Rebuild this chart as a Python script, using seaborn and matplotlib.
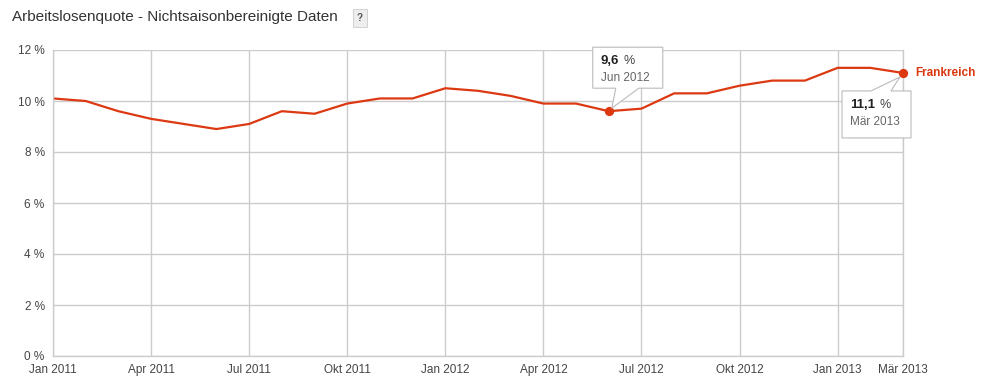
import numpy as np
import pandas as pd
import matplotlib
matplotlib.use("Agg")
import matplotlib.pyplot as plt
import matplotlib.transforms as mtransforms
from matplotlib.patches import Polygon
import seaborn as sns

# Data: monthly unemployment rate, France, Jan 2011 - Mar 2013
months = ["Jan 2011", "Feb 2011", "Mär 2011", "Apr 2011", "Mai 2011", "Jun 2011",
          "Jul 2011", "Aug 2011", "Sep 2011", "Okt 2011", "Nov 2011", "Dez 2011",
          "Jan 2012", "Feb 2012", "Mär 2012", "Apr 2012", "Mai 2012", "Jun 2012",
          "Jul 2012", "Aug 2012", "Sep 2012", "Okt 2012", "Nov 2012", "Dez 2012",
          "Jan 2013", "Feb 2013", "Mär 2013"]
rate = [10.1, 10.0, 9.6, 9.3, 9.1, 8.9,
        9.1, 9.6, 9.5, 9.9, 10.1, 10.1,
        10.5, 10.4, 10.2, 9.9, 9.9, 9.6,
        9.7, 10.3, 10.3, 10.6, 10.8, 10.8,
        11.3, 11.3, 11.1]
tick_labels = ["Jan 2011", "Apr 2011", "Jul 2011", "Okt 2011", "Jan 2012",
               "Apr 2012", "Jul 2012", "Okt 2012", "Jan 2013", "Mär 2013"]
y_ticks = [0, 2, 4, 6, 8, 10, 12]
country = "Frankreich"
highlight = ["Jun 2012", "Mär 2013"]

df = pd.DataFrame({"month": months, "rate": rate})
df["idx"] = np.arange(len(df))

sns.set_style("white")
plt.rcParams["font.family"] = ["Liberation Sans", "DejaVu Sans"]

red = "#dc3912"
grid_c = "#cccccc"
txt_c = "#444444"

fig = plt.figure(figsize=(9.81, 3.82), dpi=100)
ax = fig.add_axes([53 / 981, 26 / 382, 850 / 981, 306 / 382])

sns.lineplot(data=df, x="idx", y="rate", color=red, linewidth=1.6, ax=ax)

ax.set_xlim(0, len(months) - 1)
ax.set_ylim(0, 12)
tick_pos = [months.index(t) for t in tick_labels]
ax.set_xticks(tick_pos)
ax.set_xticklabels(tick_labels, fontsize=8.5, color=txt_c)
ax.set_yticks(y_ticks)
ax.set_yticklabels([f"{v} %" for v in y_ticks], fontsize=8.5, color=txt_c)
ax.tick_params(length=0, pad=6)
ax.grid(True, color=grid_c, linewidth=1)
ax.spines["top"].set_visible(False)
for s in ["left", "bottom", "right"]:
    ax.spines[s].set_color(grid_c)
    ax.spines[s].set_linewidth(1)
ax.set_xlabel("")
ax.set_ylabel("")

# highlighted points
hl = df[df["month"].isin(highlight)]
ax.scatter(hl["idx"], hl["rate"], s=32, color=red, zorder=5, clip_on=False)

# series label
last = df.iloc[-1]
ax.annotate(country, (last["idx"], last["rate"]), xytext=(12, 0),
            textcoords="offset pixels", va="center", ha="left",
            fontsize=8.5, fontweight="bold", color=red, annotation_clip=False)


def callout(xi, yv, value, label, box, tail):
    px, py = ax.transData.transform((xi, yv))
    tr = mtransforms.Affine2D().translate(px, py)
    l, r, b, t = box
    (bx0, bx1), tip, edge = tail
    if edge == "bottom":
        pts = [(l, b), (bx0, b), tip, (bx1, b), (r, b), (r, t), (l, t)]
    else:
        pts = [(l, b), (r, b), (r, t), (bx1, t), tip, (bx0, t), (l, t)]
    poly = Polygon(pts, closed=True, facecolor="white", edgecolor="#bbbbbb",
                   linewidth=0.8, transform=tr, zorder=6)
    fig.add_artist(poly)
    v = fig.text(px + l + 8, py + t - 14, value, fontsize=9.5, fontweight="bold",
                 color="#222222", va="center", ha="left", transform=None, zorder=7)
    fig.canvas.draw()
    ext = v.get_window_extent()
    fig.text(ext.x1 + 4, py + t - 14, "%", fontsize=9, color="#444444",
             va="center", ha="left", transform=None, zorder=7)
    fig.text(px + l + 8, py + t - 31, label, fontsize=8.5, color="#666666",
             va="center", ha="left", transform=None, zorder=7)


callout(months.index("Jun 2012"), rate[months.index("Jun 2012")], "9,6", "Jun 2012",
        (-16, 54, 23, 64), ((7, 30), (3, 3), "bottom"))
callout(months.index("Mär 2013"), rate[months.index("Mär 2013")], "11,1", "Mär 2013",
        (-61, 8, -65, -18), ((-32, -12), (-3, -4), "top"))

# title + help box
fig.text(12 / 981, 1 - 17 / 382, "Arbeitslosenquote - Nichtsaisonbereinigte Daten",
         fontsize=11, color="#333333", va="center", ha="left")
fig.text(360 / 981, 1 - 18 / 382, "?", fontsize=7, fontweight="bold", color="#555555",
         va="center", ha="center",
         bbox=dict(boxstyle="square,pad=0.45", facecolor="#eeeeee", edgecolor="#cccccc", linewidth=0.6))

fig.savefig("out.png", dpi=100)
